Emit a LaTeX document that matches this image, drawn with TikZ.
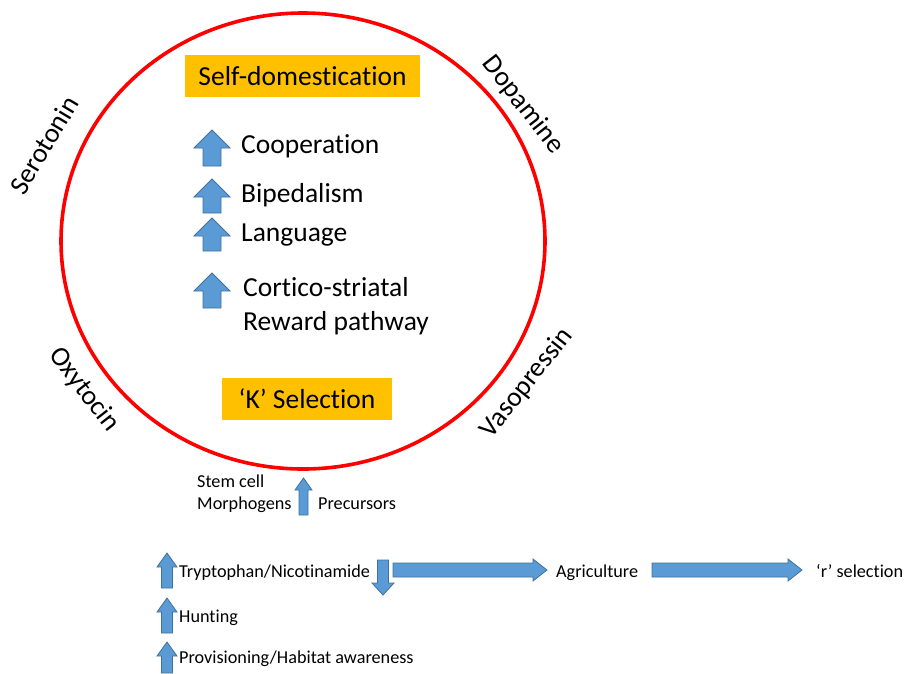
\documentclass[tikz,border=0pt]{standalone}
\usepackage{fontspec}
\setmainfont{Carlito}[Ligatures={NoCommon}]
\begin{document}
\begin{tikzpicture}[x=1pt,y=-1pt,
  big/.style={font=\fontsize{27.5}{33}\selectfont, inner sep=0pt},
  small/.style={font=\fontsize{18.2}{22}\selectfont, inner sep=0pt},
  obox/.style={fill=boxorange, inner sep=0pt},
  barrow/.style={fill=arrowblue, draw=arrowedge, line width=0.8pt, line join=miter}]
\definecolor{boxorange}{HTML}{FFC000}
\definecolor{arrowblue}{HTML}{5B9BD5}
\definecolor{arrowedge}{HTML}{41719C}
\useasboundingbox (0,0) rectangle (904,673);
\newcommand{\vblock}[6]{% cx, tip y, end y, head base y, head half, shaft half
  \filldraw[barrow] (#1,#2) -- ({#1+#5},#4) -- ({#1+#6},#4) -- ({#1+#6},#3) -- ({#1-#6},#3) -- ({#1-#6},#4) -- ({#1-#5},#4) -- cycle;}
\newcommand{\hblock}[6]{% cy, tail x, tip x, head base x, head half, shaft half
  \filldraw[barrow] (#3,#1) -- (#4,{#1-#5}) -- (#4,{#1-#6}) -- (#2,{#1-#6}) -- (#2,{#1+#6}) -- (#4,{#1+#6}) -- (#4,{#1+#5}) -- cycle;}

% circle
\draw[red, line width=3.6pt] (303,241) ellipse [x radius=242, y radius=228];

% boxes
\node[obox, minimum width=235pt, minimum height=42pt] (selfbox) at (302.5,76) {};
\node[big] (self) at (selfbox.center) {Self-domestication};
\node[obox, minimum width=170pt, minimum height=42pt] (kbox) at (307,399) {};
\node[big] (ksel) at (kbox.center) {‘K’ Selection};

% circle labels
\node[big, rotate=59] (sero) at (44,145) {Serotonin};
\node[big, rotate=-52] (dopa) at (523,105) {Dopamine};
\node[big, rotate=-52] (oxy) at (84,390) {Oxytocin};
\node[big, rotate=51.5] (vaso) at (527,383) {Vasopressin};

% inner list
\vblock{212}{130}{166}{148}{18}{9}
\node[big, anchor=base west] (coop) at (241,153) {Cooperation};
\vblock{212}{179}{213}{197}{18}{9}
\node[big, anchor=base west] (biped) at (241,202) {Bipedalism};
\vblock{212}{218}{251}{236}{18}{9}
\node[big, anchor=base west] (lang) at (241,241) {Language};
\vblock{212}{273}{308}{291}{18}{9}
\node[big, anchor=base west] (cort) at (243,296) {Cortico-striatal};
\node[big, anchor=base west] (rew) at (243,330) {Reward pathway};

% precursors
\node[small, anchor=base west] (stem) at (197,487) {Stem cell};
\node[small, anchor=base west] (morph) at (197,509) {Morphogens};
\vblock{303.5}{478}{515}{490}{8.5}{4.5}
\node[small, anchor=base west] (prec) at (318,509) {Precursors};

% bottom chain
\vblock{167}{553}{588}{567}{10}{5.5}
\node[small, anchor=base west] (tryp) at (179,577) {Tryptophan/Nicotinamide};
\vblock{383}{595}{560}{583}{11}{5.5}
\hblock{570}{393}{547}{533}{11}{7}
\node[small, anchor=base west] (agri) at (556,577) {Agriculture};
\hblock{570}{652}{802}{788}{11}{7}
\node[small, anchor=base west] (rsel) at (816,577) {‘r’ selection};
\vblock{167}{598}{633}{612}{10}{5.5}
\node[small, anchor=base west] (hunt) at (179,622) {Hunting};
\vblock{167}{642}{673}{656}{10}{5.5}
\node[small, anchor=base west] (prov) at (179,663) {Provisioning/Habitat awareness};
\end{tikzpicture}
\end{document}
